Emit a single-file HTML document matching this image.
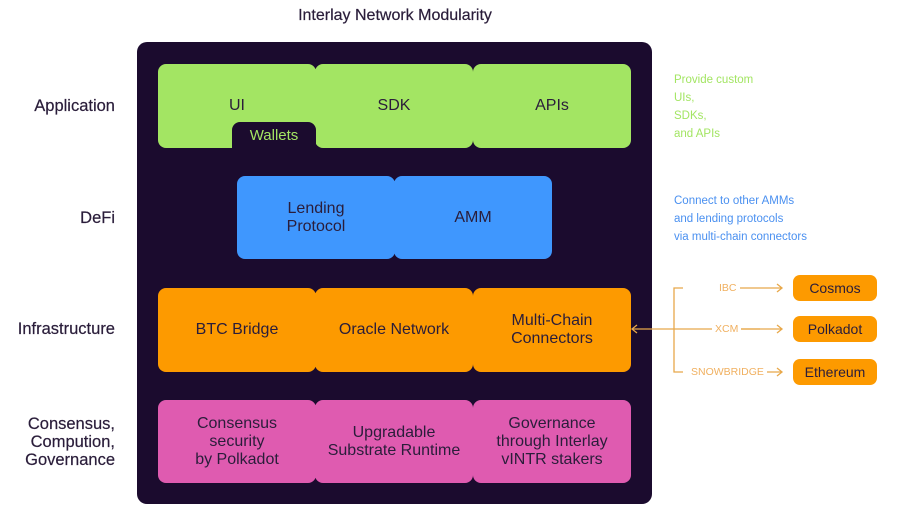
<!DOCTYPE html>
<html><head><meta charset="utf-8"><style>
*{margin:0;padding:0;box-sizing:border-box}
body{width:898px;height:520px;background:#fff;position:relative;overflow:hidden;font-family:"Liberation Sans",sans-serif;color:#2a1d3a}
.a{position:absolute}
.lbl{position:absolute;right:783px;text-align:right;font-size:16.5px;line-height:18px;color:#2a1d3a;-webkit-text-stroke:0.2px #2a1d3a}
.b{position:absolute;border-radius:8px;display:flex;align-items:center;justify-content:center;text-align:center;font-size:16px;line-height:18px;color:#2a1d3a}
.g{background:#a3e563}.bl{background:#3f97fe}.o{background:#fd9a00}.p{background:#df5bb0}
.note{position:absolute;font-size:11.5px;line-height:18px}
.ext{position:absolute;left:793px;width:84px;height:26px;border-radius:7px;background:#fd9a00;font-size:14px;display:flex;align-items:center;justify-content:center;color:#2a1d3a}
.cl{position:absolute;font-size:10.5px;color:#f0b060;background:#fff;padding:0 3px;line-height:12px}
</style></head><body>
<div class="a" style="left:0;width:790px;top:7px;text-align:center;font-size:16px;color:#2a1d3a;-webkit-text-stroke:0.2px #2a1d3a">Interlay Network Modularity</div>
<div class="a" style="left:137px;top:42px;width:515px;height:462px;background:#1b0b2e;border-radius:10px"></div>

<div class="lbl" style="top:97px">Application</div>
<div class="lbl" style="top:209px">DeFi</div>
<div class="lbl" style="top:320px">Infrastructure</div>
<div class="lbl" style="top:415px">Consensus,<br>Compution,<br>Governance</div>

<div class="b g" style="left:158px;top:64px;width:158px;height:84px">UI</div>
<div class="b g" style="left:315px;top:64px;width:158px;height:84px">SDK</div>
<div class="b g" style="left:473px;top:64px;width:158px;height:84px">APIs</div>
<div class="b" style="left:232px;top:122px;width:84px;height:27px;background:#1b0b2e;color:#a3e563;border-radius:8px 8px 0 0;font-size:15px">Wallets</div>

<div class="b bl" style="left:237px;top:176px;width:158px;height:83px">Lending<br>Protocol</div>
<div class="b bl" style="left:394px;top:176px;width:158px;height:83px">AMM</div>

<div class="b o" style="left:158px;top:288px;width:158px;height:84px">BTC Bridge</div>
<div class="b o" style="left:315px;top:288px;width:158px;height:84px">Oracle Network</div>
<div class="b o" style="left:473px;top:288px;width:158px;height:84px">Multi-Chain<br>Connectors</div>

<div class="b p" style="left:158px;top:400px;width:158px;height:83px">Consensus<br>security<br>by Polkadot</div>
<div class="b p" style="left:315px;top:400px;width:158px;height:83px">Upgradable<br>Substrate Runtime</div>
<div class="b p" style="left:473px;top:400px;width:158px;height:83px">Governance<br>through Interlay<br>vINTR stakers</div>

<div class="note" style="left:674px;top:71px;color:#a3e563">Provide custom<br>UIs,<br>SDKs,<br>and APIs</div>
<div class="note" style="left:674px;top:192px;color:#4a90f0">Connect to other AMMs<br>and lending protocols<br>via multi-chain connectors</div>

<svg class="a" style="left:0;top:0" width="898" height="520">
<g stroke="#e8a84a" stroke-width="1.3" fill="none">
<path d="M683 288 H674 V372 H683"/>
<path d="M632 329 H760"/>
<path d="M637 325 L632 329 L637 333"/>
<path d="M740 288 H782 M777 284 L782 288 L777 292"/>
<path d="M740 329 H782 M777 325 L782 329 L777 333"/>
<path d="M760 372 H782 M777 368 L782 372 L777 376"/>
</g></svg>
<div class="cl" style="left:716px;top:282px">IBC</div>
<div class="cl" style="left:712px;top:323px">XCM</div>
<div class="cl" style="left:688px;top:366px">SNOWBRIDGE</div>

<div class="ext" style="top:275px">Cosmos</div>
<div class="ext" style="top:316px">Polkadot</div>
<div class="ext" style="top:359px">Ethereum</div>
</body></html>
